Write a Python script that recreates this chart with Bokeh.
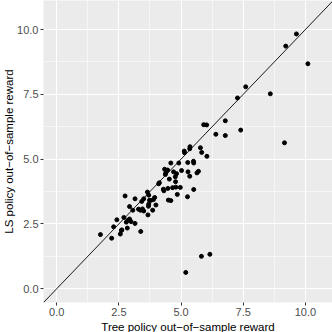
from bokeh.plotting import figure
from bokeh.models import FixedTicker, Slope, Title
from bokeh.embed import file_html
from bokeh.resources import INLINE

tree_reward = [9.64, 9.21, 10.10, 7.60, 7.27, 8.59, 7.40, 9.16, 6.78, 5.91,
               6.03, 6.40, 6.78, 5.78, 5.83, 6.04, 5.36, 5.35, 5.13, 5.14,
               5.50, 5.51, 5.27, 5.70, 5.64, 5.35, 5.28, 5.51, 5.26, 5.02,
               4.91, 4.59, 4.46, 4.34, 4.70, 4.77, 4.78, 4.82, 4.53, 4.37,
               4.39, 4.97, 4.79, 4.66, 4.47, 4.29, 4.31, 4.10, 4.13, 4.85,
               4.49, 4.59, 3.99, 3.94, 3.89, 3.79, 3.86, 3.65, 3.70, 3.73,
               3.70, 3.69, 3.67, 3.50, 3.42, 3.45, 3.37, 3.50, 3.29, 3.38,
               3.15, 2.75, 3.06, 2.93, 2.93, 2.86, 2.70, 2.80, 2.84, 2.99,
               3.15, 2.42, 2.29, 2.21, 1.76, 2.56, 2.60, 2.62, 5.19, 5.82,
               6.16]
ls_reward = [9.83, 9.36, 8.68, 7.79, 7.36, 7.52, 6.12, 5.63, 6.48, 6.33,
             6.32, 5.96, 5.91, 5.44, 5.26, 5.11, 5.48, 5.40, 5.31, 5.25,
             4.92, 4.85, 4.87, 4.53, 4.47, 4.34, 4.51, 3.83, 3.55, 4.56,
             4.85, 4.85, 4.58, 4.61, 4.51, 4.32, 4.13, 4.44, 4.23, 4.41,
             4.47, 3.91, 3.92, 3.90, 3.87, 3.84, 3.78, 4.05, 4.09, 3.64,
             3.42, 3.40, 3.23, 3.52, 3.44, 3.41, 3.03, 3.73, 3.61, 3.41,
             3.26, 3.18, 2.85, 3.47, 3.37, 3.08, 3.03, 3.00, 3.07, 2.21,
             3.47, 3.58, 3.03, 3.17, 2.69, 2.64, 2.75, 2.57, 2.34, 2.59,
             2.52, 2.66, 2.39, 1.95, 2.09, 2.11, 2.25, 2.27, 0.63, 1.25,
             1.33]

major_ticks = [0.0, 2.5, 5.0, 7.5, 10.0]
minor_ticks = [1.25, 3.75, 6.25, 8.75]
tick_labels = ["0.0", "2.5", "5.0", "7.5", "10.0"]
x_title = "Tree policy out\u2212of\u2212sample reward"
y_title = "LS policy out\u2212of\u2212sample reward"

FONT = "Liberation Sans"

p = figure(width=332, height=332, output_backend="svg", toolbar_location=None,
           x_range=(-0.53, 11.09), y_range=(-0.53, 11.12),
           min_border_left=41, min_border_right=0, min_border_top=0,
           min_border_bottom=28)

p.background_fill_color = "#EBEBEB"
p.border_fill_color = "white"
p.outline_line_color = None

for ax in (p.xaxis[0], p.yaxis[0]):
    ax.ticker = FixedTicker(ticks=major_ticks, minor_ticks=minor_ticks)
    ax.major_label_overrides = {t: l for t, l in zip(major_ticks, tick_labels)}
    ax.major_label_text_font = FONT
    ax.major_label_text_font_size = "11px"
    ax.major_label_text_color = "#4D4D4D"
    ax.major_label_standoff = 1
    ax.axis_line_color = None
    ax.major_tick_line_color = "#333333"
    ax.major_tick_in = 0
    ax.major_tick_out = 3
    ax.minor_tick_line_color = None

for side, txt in (("below", x_title), ("left", y_title)):
    p.add_layout(Title(text=txt, align="center", text_font=FONT,
                       text_font_size="11.5px", text_font_style="normal",
                       text_color="black", standoff=0), side)

for g in (p.xgrid[0], p.ygrid[0]):
    g.ticker = FixedTicker(ticks=major_ticks, minor_ticks=minor_ticks)
    g.grid_line_color = "white"
    g.grid_line_width = 1.1
    g.minor_grid_line_color = "white"
    g.minor_grid_line_width = 0.55

p.add_layout(Slope(gradient=1, y_intercept=0, line_color="black", line_width=0.9))

p.scatter(tree_reward, ls_reward, size=4, color="black")

open("out.html", "w").write(file_html(p, INLINE))
